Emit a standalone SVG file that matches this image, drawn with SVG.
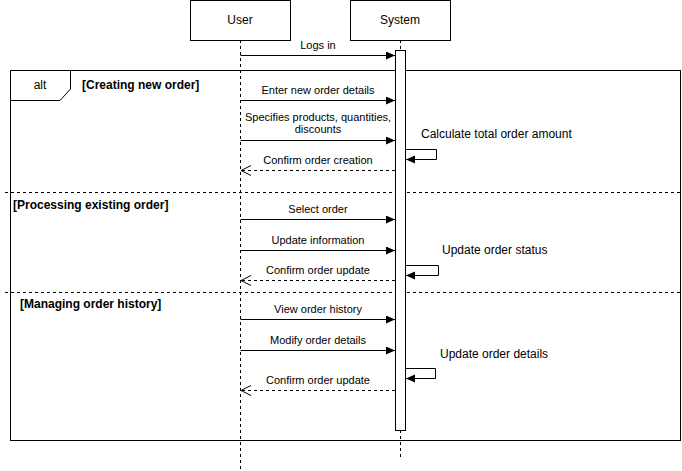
<svg xmlns="http://www.w3.org/2000/svg" width="682" height="471" viewBox="0 0 682 471">
<defs>
<marker id="fill" markerWidth="10" markerHeight="10" refX="9" refY="4" orient="auto" markerUnits="userSpaceOnUse">
<path d="M0,0 L9,4 L0,8 Z" fill="#000"/>
</marker>
<marker id="openEnd" markerWidth="12" markerHeight="12" refX="10" refY="5" orient="auto" markerUnits="userSpaceOnUse">
<path d="M0,0 L10,5 L0,10" fill="none" stroke="#000" stroke-width="1"/>
</marker>
</defs>
<style>
text{font-family:"Liberation Sans",Arial,Helvetica,sans-serif;fill:#000}
.msg{font-size:11px;text-anchor:middle}
.note{font-size:12px}
.guard{font-size:12px;font-weight:bold}
.box{fill:#fff;stroke:#000;stroke-width:1}
.life{stroke:#000;stroke-width:1;stroke-dasharray:3,3;fill:none}
.sep{stroke:#000;stroke-width:1;stroke-dasharray:3,3;fill:none}
.call{stroke:#000;stroke-width:1;fill:none;marker-end:url(#fill)}
.ret{stroke:#000;stroke-width:1;fill:none;stroke-dasharray:3,3;marker-end:url(#openEnd)}
</style>
<rect width="682" height="471" fill="#fff"/>

<g id="alt-frame">
<rect x="10.5" y="70.5" width="670" height="370" fill="none" stroke="#000"/>
<path d="M10.5,70.5 L70.5,70.5 L70.5,89 L60,100.5 L10.5,100.5 Z" fill="#fff" stroke="#000"/>
<text x="40" y="89" class="msg" style="font-size:12px">alt</text>
<text x="82" y="89" class="guard">[Creating new order]</text>
<line x1="5" y1="192.5" x2="680" y2="192.5" class="sep"/>
<text x="13" y="209" class="guard">[Processing existing order]</text>
<line x1="5" y1="292.5" x2="680" y2="292.5" class="sep"/>
<text x="20" y="308" class="guard">[Managing order history]</text>
</g>

<g id="user">
<line x1="240.5" y1="40" x2="240.5" y2="470" class="life"/>
<rect x="190.5" y="0.5" width="100" height="40" class="box"/>
<text x="240" y="24" class="msg" style="font-size:12px">User</text>
</g>

<g id="system">
<line x1="400.5" y1="40" x2="400.5" y2="458" class="life"/>
<rect x="350.5" y="0.5" width="100" height="40" class="box"/>
<text x="400" y="24" class="msg" style="font-size:12px">System</text>
<rect x="395.5" y="50.5" width="10" height="380" class="box"/>
</g>

<g id="connectors">
<line x1="240.5" y1="55.5" x2="395" y2="55.5" class="call"/>
<text x="318" y="49" class="msg">Logs in</text>

<line x1="240.5" y1="100.5" x2="395" y2="100.5" class="call"/>
<text x="318" y="94" class="msg">Enter new order details</text>

<line x1="240.5" y1="140.5" x2="395" y2="140.5" class="call"/>
<text x="318" y="121" class="msg">Specifies products, quantities,</text>
<text x="318" y="133" class="msg">discounts</text>

<path d="M405.5,149.5 L436.5,149.5 L436.5,159.5 L406,159.5" class="call"/>
<text x="421" y="138" class="note">Calculate total order amount</text>

<line x1="395" y1="170.5" x2="241" y2="170.5" class="ret"/>
<text x="318" y="164" class="msg">Confirm order creation</text>

<line x1="240.5" y1="219.5" x2="395" y2="219.5" class="call"/>
<text x="318" y="213" class="msg">Select order</text>

<line x1="240.5" y1="250.5" x2="395" y2="250.5" class="call"/>
<text x="318" y="244" class="msg">Update information</text>

<path d="M405.5,265.5 L438.5,265.5 L438.5,275.5 L406,275.5" class="call"/>
<text x="442" y="254" class="note">Update order status</text>

<line x1="395" y1="280.5" x2="241" y2="280.5" class="ret"/>
<text x="318" y="274" class="msg">Confirm order update</text>

<line x1="240.5" y1="319.5" x2="395" y2="319.5" class="call"/>
<text x="318" y="313" class="msg">View order history</text>

<line x1="240.5" y1="350.5" x2="395" y2="350.5" class="call"/>
<text x="318" y="344" class="msg">Modify order details</text>

<path d="M405.5,368.5 L435.5,368.5 L435.5,378.5 L406,378.5" class="call"/>
<text x="440" y="358" class="note">Update order details</text>

<line x1="395" y1="390.5" x2="241" y2="390.5" class="ret"/>
<text x="318" y="384" class="msg">Confirm order update</text>
</g>
</svg>
